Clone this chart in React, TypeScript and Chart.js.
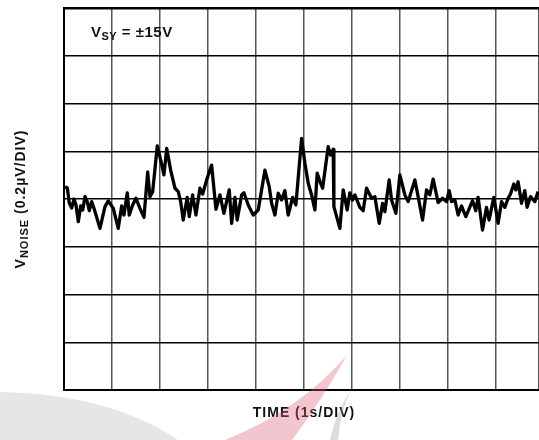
import React, { useEffect, useRef } from "react";
import { Chart, registerables } from "chart.js";

Chart.register(...registerables);

// Time (s), 1 s per division
const timeS = [
  0.021, 0.069, 0.11, 0.16, 0.208, 0.25, 0.298, 0.348, 0.39, 0.438, 0.485, 0.527, 0.577, 0.625, 0.75, 0.854,
  0.923, 1.027, 1.131, 1.202, 1.25, 1.319, 1.36, 1.431, 1.5, 1.583, 1.667, 1.744, 1.792, 1.848, 1.944, 2.015,
  2.083, 2.14, 2.223, 2.313, 2.381, 2.431, 2.485, 2.569, 2.61, 2.681, 2.75, 2.833, 2.89, 2.973, 3.077, 3.167,
  3.25, 3.333, 3.444, 3.494, 3.563, 3.61, 3.702, 3.75, 3.84, 3.944, 4.048, 4.188, 4.277, 4.327, 4.396, 4.465,
  4.535, 4.604, 4.673, 4.765, 4.833, 4.952, 5.021, 5.09, 5.16, 5.229, 5.277, 5.348, 5.39, 5.506, 5.556, 5.61,
  5.625, 5.75, 5.819, 5.902, 5.958, 6.015, 6.063, 6.167, 6.235, 6.306, 6.41, 6.479, 6.569, 6.64, 6.688, 6.777,
  6.827, 6.917, 7.0, 7.104, 7.173, 7.313, 7.381, 7.473, 7.556, 7.625, 7.694, 7.798, 7.89, 7.973, 8.027, 8.077,
  8.146, 8.215, 8.285, 8.375, 8.515, 8.583, 8.631, 8.723, 8.806, 8.86, 8.958, 9.048, 9.119, 9.188, 9.256, 9.306,
  9.375, 9.417, 9.465, 9.535, 9.604, 9.652, 9.723, 9.813, 9.881,
];

// Noise voltage (µV), 0.2 µV per division
const noiseUV = [
  0.052, 0.046, -0.017, -0.038, 0.0, -0.025, -0.095, -0.029, -0.046, 0.01, -0.011, -0.049, -0.011, -0.039, -0.123, -0.032,
  -0.008, -0.039, -0.123, -0.029, -0.067, 0.026, -0.067, -0.025, 0.003, -0.039, -0.077, 0.114, 0.01, 0.031, 0.222, 0.163,
  0.101, 0.212, 0.121, 0.045, 0.031, -0.011, -0.088, 0.007, -0.074, 0.017, -0.067, 0.045, 0.021, 0.08, 0.142, -0.043,
  0.017, -0.06, 0.038, -0.102, 0.007, -0.088, 0.017, 0.026, -0.025, -0.067, -0.046, 0.121, 0.052, -0.018, -0.067, 0.024,
  -0.004, 0.035, -0.067, 0.007, -0.025, 0.254, 0.15, 0.066, 0.017, -0.046, 0.108, 0.066, 0.045, 0.219, 0.184, 0.208,
  -0.032, -0.123, 0.038, -0.046, 0.026, -0.004, 0.017, -0.035, -0.049, 0.045, 0.003, 0.01, -0.102, -0.018, -0.053, 0.08,
  -0.004, -0.06, 0.101, 0.017, -0.011, 0.08, 0.01, -0.088, 0.038, 0.017, 0.083, -0.015, 0.003, -0.011, 0.035, -0.011,
  -0.004, -0.067, -0.029, -0.074, -0.007, -0.049, 0.007, -0.13, -0.035, -0.088, 0.007, -0.102, -0.011, -0.035, 0.003, 0.021,
  0.063, 0.038, 0.072, -0.018, 0.035, -0.035, 0.01, -0.011, 0.031,
];

const xMin = 0;
const xMax = 9.9;
const xStep = 1;
const yMin = -0.8;
const yMax = 0.8;
const yStep = 0.2;

const supplyMain = "V";
const supplySub = "SY";
const supplyRest = " = ±15V";
const yTitleMain = "V";
const yTitleSub = "NOISE";
const yTitleRest = " (0.2µV/DIV)";
const xTitleText = "TIME (1s/DIV)";

const FONT = "Arial, 'Liberation Sans', Helvetica, sans-serif";

function setSpacing(ctx: any, px: number) {
  if ("letterSpacing" in ctx) ctx.letterSpacing = `${px}px`;
}

const textPlugin = {
  id: "labels",
  beforeDraw(chart: any) {
    const ctx = chart.ctx as CanvasRenderingContext2D;
    ctx.save();
    ctx.fillStyle = "#ffffff";
    ctx.fillRect(0, 0, chart.width, chart.height);
    ctx.restore();
  },
  afterDraw(chart: any) {
    const ctx = chart.ctx as CanvasRenderingContext2D;
    const area = chart.chartArea;
    ctx.save();
    ctx.fillStyle = "#111";
    ctx.textBaseline = "alphabetic";

    // supply annotation
    setSpacing(ctx, 0.5);
    let x = area.left + 27;
    const base = area.top + 29;
    ctx.font = `bold 15px ${FONT}`;
    ctx.fillText(supplyMain, x, base);
    x += ctx.measureText(supplyMain).width;
    ctx.font = `bold 11px ${FONT}`;
    ctx.fillText(supplySub, x, base + 3);
    x += ctx.measureText(supplySub).width;
    ctx.font = `bold 15px ${FONT}`;
    ctx.fillText(supplyRest, x, base);

    // y title (rotated)
    ctx.save();
    setSpacing(ctx, 1);
    const cy = (area.top + area.bottom) / 2;
    ctx.translate(21, cy);
    ctx.rotate(-Math.PI / 2);
    ctx.font = `bold 14px ${FONT}`;
    const w1 = ctx.measureText(yTitleMain).width;
    const w3 = ctx.measureText(yTitleRest).width;
    ctx.font = `bold 11px ${FONT}`;
    const w2 = ctx.measureText(yTitleSub).width;
    let tx = -(w1 + w2 + w3) / 2;
    ctx.font = `bold 14px ${FONT}`;
    ctx.fillText(yTitleMain, tx, 4);
    tx += w1;
    ctx.font = `bold 11px ${FONT}`;
    ctx.fillText(yTitleSub, tx, 7);
    tx += w2;
    ctx.font = `bold 14px ${FONT}`;
    ctx.fillText(yTitleRest, tx, 4);
    ctx.restore();

    // x title
    setSpacing(ctx, 1);
    ctx.font = `bold 14px ${FONT}`;
    ctx.textAlign = "center";
    ctx.textBaseline = "middle";
    ctx.fillText(xTitleText, 304, 413);
    ctx.restore();

    // faint background watermark
    ctx.save();
    ctx.globalAlpha = 0.35;
    ctx.fillStyle = "#b8b8b8";
    ctx.beginPath();
    ctx.moveTo(0, 392);
    ctx.quadraticCurveTo(110, 394, 178, 440);
    ctx.lineTo(0, 440);
    ctx.closePath();
    ctx.fill();
    ctx.fillStyle = "#de5a74";
    ctx.beginPath();
    ctx.moveTo(347, 355);
    ctx.quadraticCurveTo(300, 410, 225, 440);
    ctx.lineTo(292, 440);
    ctx.quadraticCurveTo(322, 400, 347, 355);
    ctx.closePath();
    ctx.fill();
    ctx.fillStyle = "#9a9a9a";
    ctx.beginPath();
    ctx.moveTo(350, 392);
    ctx.quadraticCurveTo(336, 412, 330, 440);
    ctx.lineTo(338, 440);
    ctx.quadraticCurveTo(340, 414, 350, 392);
    ctx.closePath();
    ctx.fill();
    ctx.restore();
  },
};

export default function App() {
  const ref = useRef<HTMLCanvasElement | null>(null);

  useEffect(() => {
    if (!ref.current) return;
    const points = timeS.map((t, i) => ({ x: t, y: noiseUV[i] }));
    const chart = new Chart(ref.current, {
      type: "line",
      data: {
        datasets: [
          {
            data: points,
            borderColor: "#000",
            borderWidth: 3.3,
            pointRadius: 0,
            tension: 0,
            borderJoinStyle: "round",
            fill: false,
          },
        ],
      },
      options: {
        responsive: false,
        animation: false,
        events: [],
        layout: { padding: { left: 64, top: 8, right: 0, bottom: 50 } },
        plugins: { legend: { display: false }, tooltip: { enabled: false } },
        scales: {
          x: {
            type: "linear",
            min: xMin,
            max: xMax,
            ticks: { display: false, stepSize: xStep },
            grid: { color: "#555", lineWidth: 1.5, drawTicks: false },
            border: { display: true, color: "#000", width: 2 },
          },
          y: {
            type: "linear",
            min: yMin,
            max: yMax,
            ticks: { display: false, stepSize: yStep },
            grid: {
              color: "#000",
              lineWidth: (c: any) => (c.tick && Math.abs(c.tick.value - yMax) < 1e-6 ? 2.5 : 1.5),
              drawTicks: false,
            },
            border: { display: true, color: "#000", width: 2 },
          },
        },
      } as any,
      plugins: [textPlugin],
    });
    return () => chart.destroy();
  }, []);

  return (
    <div style={{ position: "absolute", left: 0, top: 0, width: 539, height: 440, overflow: "hidden" }}>
      <canvas ref={ref} width={539} height={440} style={{ display: "block" }} />
    </div>
  );
}
